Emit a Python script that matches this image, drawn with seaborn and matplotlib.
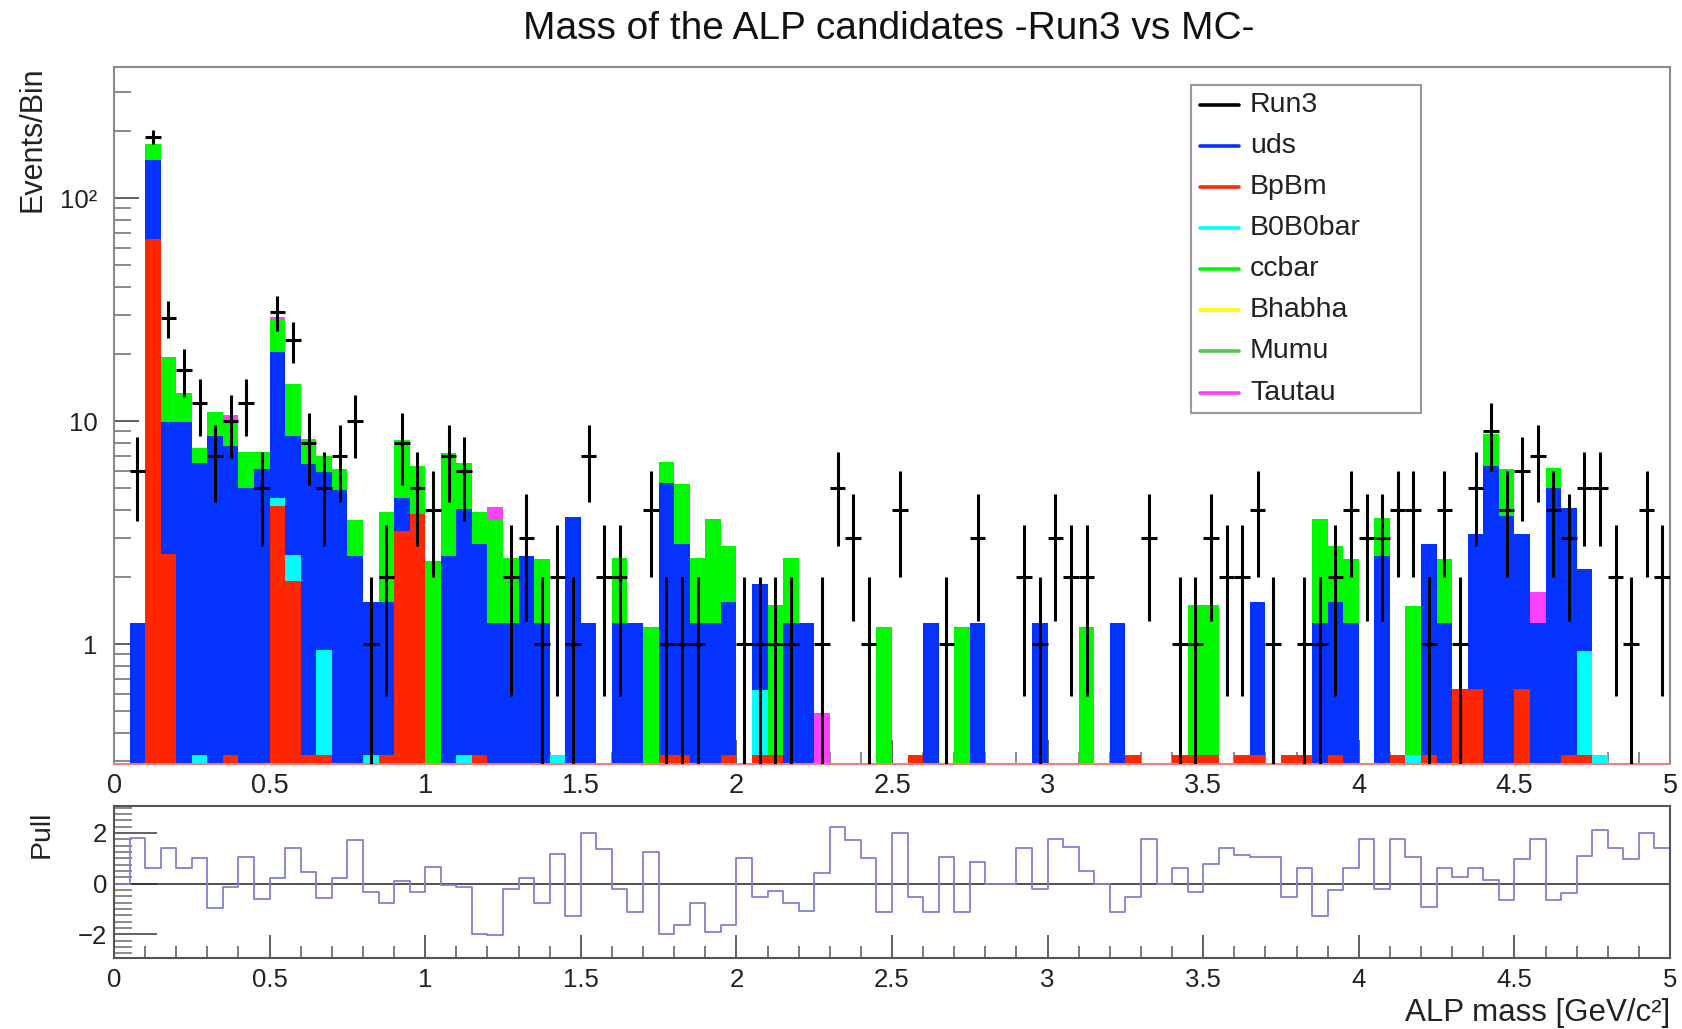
import numpy as np
import pandas as pd
import matplotlib
matplotlib.use("Agg")
import matplotlib.pyplot as plt
from matplotlib.ticker import MultipleLocator, FixedLocator, NullFormatter
from matplotlib.lines import Line2D
from matplotlib.patches import Rectangle
import seaborn as sns

# ---------------- data ----------------
edges = np.round(np.linspace(0.0, 5.0, 101), 4)
centers = 0.5 * (edges[:-1] + edges[1:])

run3 = [0, 6, 188, 29, 17, 12, 7, 10, 12, 5,
        31, 23, 8, 5, 7, 10, 1, 2, 8, 5,
        4, 7, 6, 0, 0, 2, 3, 1, 2, 1,
        7, 2, 2, 0, 4, 1, 1, 1, 0, 0,
        1, 1, 1, 1, 0, 1, 5, 3, 1, 0,
        4, 0, 0, 1, 0, 3, 0, 0, 2, 1,
        3, 2, 2, 0, 0, 0, 3, 0, 1, 1,
        3, 2, 2, 4, 1, 0, 1, 1, 2, 4,
        3, 3, 4, 4, 1, 4, 1, 5, 9, 4,
        6, 7, 4, 3, 5, 5, 2, 1, 4, 2]

bpbm = [0, 0, 65.3, 2.54, 0, 0, 0, 0.32, 0, 0,
        4.17, 1.92, 0.32, 0.32, 0, 0, 0, 0.32, 3.22, 3.83,
        0, 0, 0, 0.32, 0, 0, 0, 0, 0, 0,
        0, 0, 0, 0, 0, 0.32, 0.32, 0, 0, 0.32,
        0, 0.32, 0.32, 0, 0, 0, 0, 0, 0, 0,
        0, 0.32, 0, 0, 0, 0, 0, 0, 0, 0,
        0, 0, 0, 0, 0, 0.32, 0, 0, 0.32, 0.32,
        0.32, 0, 0.32, 0.32, 0, 0.32, 0.32, 0, 0.32, 0,
        0, 0, 0.32, 0, 0.32, 0, 0.63, 0.63, 0, 0,
        0.63, 0, 0, 0.32, 0.32, 0, 0, 0, 0, 0]

b0b0bar = [0, 0, 0, 0, 0, 0.32, 0, 0, 0, 0,
           0.33, 0.6, 0, 0.62, 0, 0, 0.32, 0, 0, 0,
           0, 0, 0.32, 0, 0, 0, 0, 0, 0.32, 0,
           0, 0, 0, 0, 0, 0, 0, 0, 0, 0,
           0, 0.30, 0, 0, 0, 0, 0, 0, 0, 0,
           0, 0, 0, 0, 0, 0, 0, 0, 0, 0,
           0, 0, 0, 0, 0, 0, 0, 0, 0, 0,
           0, 0, 0, 0, 0, 0, 0, 0, 0, 0,
           0, 0, 0, 0.32, 0, 0, 0, 0, 0, 0,
           0, 0, 0, 0, 0.61, 0.32, 0, 0, 0, 0]

uds = [0, 1.24, 83.3, 7.33, 9.9, 6.18, 8.6, 7.42, 5.0, 6.1,
       15.9, 6.08, 6.08, 4.96, 4.9, 2.48, 1.23, 1.22, 1.28, 0,
       0, 2.48, 3.71, 2.5, 1.24, 1.24, 2.48, 1.24, 0, 3.73,
       1.24, 0, 1.24, 1.24, 0, 4.98, 2.5, 1.24, 1.24, 1.23,
       0, 1.24, 0, 1.24, 1.24, 0, 0, 0, 0, 0,
       0, 0, 1.24, 0, 0, 1.24, 0, 0, 0, 1.24,
       0, 0, 0, 0, 1.24, 0, 0, 0, 0, 0,
       0, 0, 0, 1.23, 0, 0, 0, 1.24, 1.23, 1.24,
       0, 2.48, 0, 0, 2.48, 1.24, 0, 2.5, 6.28, 3.76,
       2.5, 1.24, 5.0, 3.74, 1.24, 0, 0, 0, 0, 0]

ccbar = [0, 0, 25.4, 9.5, 3.4, 1.1, 2.4, 2.46, 2.26, 1.16,
         8.2, 6.0, 1.9, 1.1, 1.2, 1.12, 0, 2.38, 3.7, 2.47,
         2.35, 4.72, 2.47, 1.11, 2.39, 1.2, 0, 1.16, 0, 0,
         0, 0, 1.2, 0, 1.19, 1.25, 2.38, 1.2, 2.39, 1.2,
         0, 0, 1.18, 1.2, 0, 0, 0, 0, 0, 1.19,
         0, 0, 0, 0, 1.19, 0, 0, 0, 0, 0,
         0, 0, 1.19, 0, 0, 0, 0, 0, 0, 1.18,
         1.18, 0, 0, 0, 0, 0, 0, 2.39, 1.2, 1.17,
         0, 1.18, 0, 1.17, 0, 1.17, 0, 0, 2.45, 2.35,
         0, 0, 1.17, 0, 0, 0, 0, 0, 0, 0]

bhabha = [0] * 100
mumu = [0] * 100

tautau = [0] * 100
for _i, _v in [(7, 0.4), (10, 0.8), (24, 0.51), (45, 0.49), (91, 0.48)]:
    tautau[_i] = _v

pull = [0, 1.78, 0.63, 1.39, 0.63, 1.0, -0.94, -0.12, 1.06, -0.62,
        0.24, 1.39, 0.47, -0.58, 0.24, 1.72, -0.34, -0.77, 0.1, -0.33,
        0.64, -0.05, -0.12, -2.0, -2.02, -0.21, 0.24, -0.77, 1.17, -1.26,
        2.0, 1.38, -0.2, -1.1, 1.26, -2.0, -1.63, -0.75, -1.89, -1.63,
        1.02, -0.51, -0.29, -0.75, -1.07, 0.41, 2.24, 1.72, 1.0, -1.1,
        2.0, -0.54, -1.1, 1.06, -1.1, 0.87, 0, 0, 1.39, -0.22,
        1.74, 1.45, 0.5, 0, -1.1, -0.54, 1.74, 0, 0.63, -0.31,
        0.77, 1.39, 1.13, 1.06, 1.06, -0.54, 0.63, -1.27, -0.25, 0.63,
        1.74, -0.22, 1.74, 1.06, -0.93, 0.63, 0.25, 0.63, 0.14, -0.64,
        0.96, 1.74, -0.64, -0.38, 1.09, 2.11, 1.39, 0.96, 2.0, 1.39]

legend_names = ["Run3", "uds", "BpBm", "B0B0bar", "ccbar", "Bhabha", "Mumu", "Tautau"]
xtick_values = [0, 0.5, 1, 1.5, 2, 2.5, 3, 3.5, 4, 4.5, 5]
xtick_labels = ["0", "0.5", "1", "1.5", "2", "2.5", "3", "3.5", "4", "4.5", "5"]
ytick_values = [1, 10, 100]
ytick_labels = ["1", "10", "10²"]
pull_ticks = [-2, 0, 2]
pull_labels = ["\u22122", "0", "2"]

title = "Mass of the ALP candidates -Run3 vs MC-"

# ---------------- style ----------------
colors = {"Run3": "#000000", "uds": "#0433ff", "BpBm": "#ff2600",
          "B0B0bar": "#00fdff", "ccbar": "#00f900", "Bhabha": "#fffb00",
          "Mumu": "#55c755", "Tautau": "#ff40ff"}

sns.set_style("ticks")
plt.rcParams["font.family"] = ["Liberation Sans", "DejaVu Sans"]
plt.rcParams["axes.unicode_minus"] = True

W, H = 1682, 1029
fig = plt.figure(figsize=(W / 100, H / 100), dpi=100)

def fx(px):
    return px / W

def fy(py):
    return 1 - py / H

ax = fig.add_axes([fx(114), fy(763.5), fx(1670) - fx(114), fy(67) - fy(763.5)])
ax2 = fig.add_axes([fx(114), fy(958), fx(1670) - fx(114), fy(806) - fy(958)])

# ---------------- stacked MC (drawn like THStack: cumulative, top first) ----------------
components = {"BpBm": bpbm, "B0B0bar": b0b0bar, "uds": uds, "ccbar": ccbar,
              "Bhabha": bhabha, "Mumu": mumu, "Tautau": tautau}
stack_order = ["BpBm", "B0B0bar", "uds", "ccbar", "Bhabha", "Mumu", "Tautau"]
cum = np.zeros(len(centers))
cums = []
for name in stack_order:
    vals = np.asarray(components[name], dtype=float)
    cum = cum + vals
    if vals.sum() > 0:
        cums.append((name, cum.copy()))

bin_list = [float(e) for e in edges]
for name, c in reversed(cums):
    df = pd.DataFrame({"mass": centers, "w": c})
    sns.histplot(data=df, x="mass", weights="w", bins=bin_list, element="step",
                 fill=True, color=colors[name], alpha=1, linewidth=0, ax=ax)

ax.set_yscale("log", nonpositive="clip")
ax.set_xlim(0, 5)
ax.set_ylim(0.2917, 387)

# data points with Poisson errors
d = np.asarray(run3, dtype=float)
m = d > 0
ax.errorbar(centers[m], d[m], xerr=0.025, yerr=np.sqrt(d[m]), fmt="none",
            ecolor="black", elinewidth=2.2, capsize=0, zorder=4)

ax.set_xlabel("")
ax.set_ylabel("")
ax.set_axisbelow(True)

for s in ["top", "left", "right"]:
    ax.spines[s].set_color("#8a8a8a")
    ax.spines[s].set_linewidth(1.5)
ax.spines["bottom"].set_color("#f08080")
ax.spines["bottom"].set_linewidth(1.5)

ax.xaxis.set_major_locator(FixedLocator(xtick_values))
ax.set_xticklabels(xtick_labels)
ax.xaxis.set_minor_locator(MultipleLocator(0.1))
ax.yaxis.set_major_locator(FixedLocator(ytick_values))
ax.set_yticklabels(ytick_labels)
yminor = [0.3, 0.4, 0.5, 0.6, 0.7, 0.8, 0.9] + list(range(2, 10)) + list(range(20, 100, 10)) + [200, 300]
ax.yaxis.set_minor_locator(FixedLocator(yminor))
ax.yaxis.set_minor_formatter(NullFormatter())

ax.tick_params(axis="x", which="major", direction="in", length=17, width=1.3,
               color="#555555", labelsize=19.5, pad=7, labelcolor="#222222",
               top=False, bottom=True)
ax.tick_params(axis="x", which="minor", direction="in", length=8.5, width=1.2,
               color="#777777", top=False, bottom=True)
ax.tick_params(axis="y", which="major", direction="in", length=18, width=1.3,
               color="#555555", labelsize=18.5, pad=12, labelcolor="#222222",
               right=False, left=True)
ax.tick_params(axis="y", which="minor", direction="in", length=12.5, width=1.2,
               color="#777777", right=False, left=True)

# ---------------- pull panel ----------------
ax2.axhline(0, color="#333333", lw=1.2, zorder=2)
sns.lineplot(x=edges, y=np.append(pull, pull[-1]), drawstyle="steps-post",
             color="#8080d4", linewidth=1.3, estimator=None, sort=False, ax=ax2)
ax2.set_xlim(0, 5)
ax2.set_ylim(-2.93, 3.06)
ax2.set_xlabel("")
ax2.set_ylabel("")
for s in ax2.spines.values():
    s.set_color("#555555")
    s.set_linewidth(1.5)
ax2.xaxis.set_major_locator(FixedLocator(xtick_values))
ax2.set_xticklabels(xtick_labels)
ax2.xaxis.set_minor_locator(MultipleLocator(0.1))
ax2.yaxis.set_major_locator(FixedLocator(pull_ticks))
ax2.set_yticklabels(pull_labels)
ax2.yaxis.set_minor_locator(MultipleLocator(0.25))
ax2.tick_params(axis="x", which="major", direction="in", length=16.5, width=1.3,
                color="#555555", labelsize=18.5, pad=7, labelcolor="#222222",
                top=False, bottom=True)
ax2.tick_params(axis="x", which="minor", direction="in", length=8.6, width=1.2,
                color="#666666", top=False, bottom=True)
ax2.tick_params(axis="y", which="major", direction="in", length=31, width=1.3,
                color="#555555", labelsize=18.5, pad=5, labelcolor="#222222",
                right=False, left=True)
ax2.tick_params(axis="y", which="minor", direction="in", length=13, width=1.2,
                color="#777777", right=False, left=True)

# ---------------- texts ----------------
fig.text(fx(889), fy(29), title, ha="center", va="center", fontsize=28, color="#111111")
fig.text(fx(33), fy(66), "Events/Bin", rotation=90, ha="center", va="top",
         fontsize=22, color="#222222")
fig.text(fx(42), fy(811), "Pull", rotation=90, ha="center", va="top",
         fontsize=20.5, color="#222222")
fig.text(fx(1670), fy(1013), "ALP mass [GeV/c²]", ha="right", va="center",
         fontsize=22.5, color="#222222")

# ---------------- legend box ----------------
fig.add_artist(Rectangle((fx(1191), fy(413)), fx(1421) - fx(1191), fy(85) - fy(413),
                         transform=fig.transFigure, facecolor="white",
                         edgecolor="#9a9a9a", linewidth=1.5, zorder=10))
entry_y = [105, 146, 187, 228, 269, 310, 351, 393]
for name, yy in zip(legend_names, entry_y):
    fig.add_artist(Line2D([fx(1200), fx(1239)], [fy(yy), fy(yy)], transform=fig.transFigure,
                          color=colors[name], linewidth=2.6, zorder=11))
    fig.text(fx(1250), fy(yy), name, ha="left", va="center", fontsize=20.5,
             color="#222222", zorder=12)

fig.savefig("out.png", dpi=100)
